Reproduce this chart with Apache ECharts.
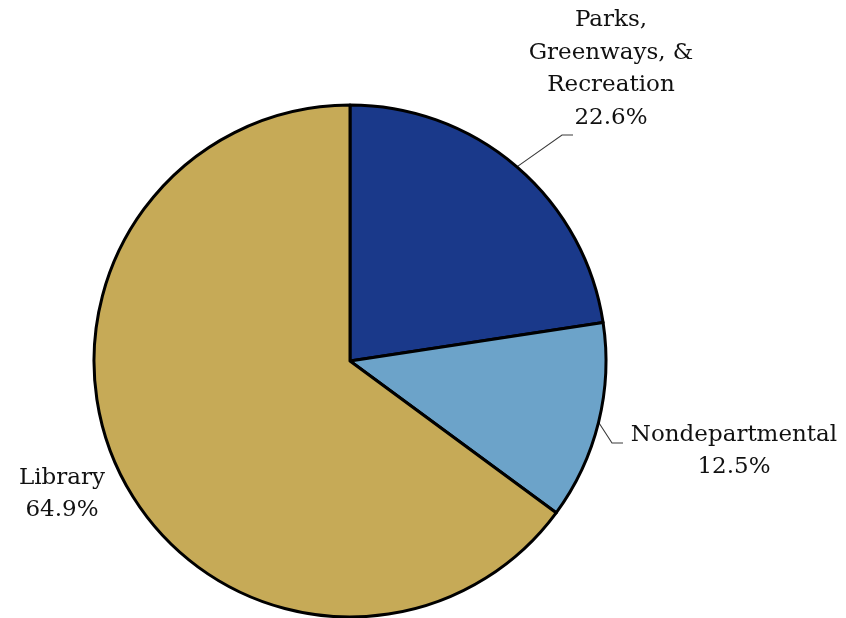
<!DOCTYPE html>
<html>
<head>
<meta charset="utf-8">
<script src="https://cdn.jsdelivr.net/npm/echarts@6/dist/echarts.min.js"></script>
<style>html,body{margin:0;padding:0;background:#fff}#c{width:846px;height:618px}</style>
</head>
<body>
<div id="c"></div>
<script>
const categories = ['Parks,\nGreenways, &\nRecreation', 'Nondepartmental', 'Library'];
const values = [22.6, 12.5, 64.9];
const colors = ['#1a398a', '#6ca3c9', '#c6aa57'];
const labelPos = [[611, 69], [734, 451], [62, 494]];
// leader elbow / end offsets relative to label centre
const guideOffsets = [[[-49, 66], [-38, 66]], [[-122, -8], [-111, -8]], null];

const chart = echarts.init(document.getElementById('c'));
chart.setOption({
  animation: false,
  series: [{
    type: 'pie',
    center: [350, 361],
    radius: 256,
    startAngle: 90,
    clockwise: true,
    data: categories.map((n, i) => ({
      name: n, value: values[i],
      itemStyle: { color: colors[i] },
      labelLine: { show: i !== 2 }
    })),
    itemStyle: { borderColor: '#000', borderWidth: 3 },
    label: {
      show: true,
      position: 'outside',
      overflow: 'none',
      formatter: p => p.name + '\n' + p.value.toFixed(1) + '%',
      fontFamily: 'DejaVu Serif',
      fontSize: 23,
      lineHeight: 32.5,
      color: '#111',
      align: 'center'
    },
    labelLine: { show: true, length: 15, length2: 12, lineStyle: { color: '#3a3a3a', width: 1.1 } },
    labelLayout: p => {
      const i = p.dataIndex;
      const [lx, ly] = labelPos[i];
      const out = { x: lx, y: ly, align: 'center', verticalAlign: 'middle' };
      const g = guideOffsets[i];
      if (g && p.labelLinePoints) {
        const s = p.labelLinePoints[0];
        out.labelLinePoints = [[s[0], s[1]], [lx + g[0][0], ly + g[0][1]], [lx + g[1][0], ly + g[1][1]]];
      }
      return out;
    }
  }]
});
</script>
</body>
</html>
